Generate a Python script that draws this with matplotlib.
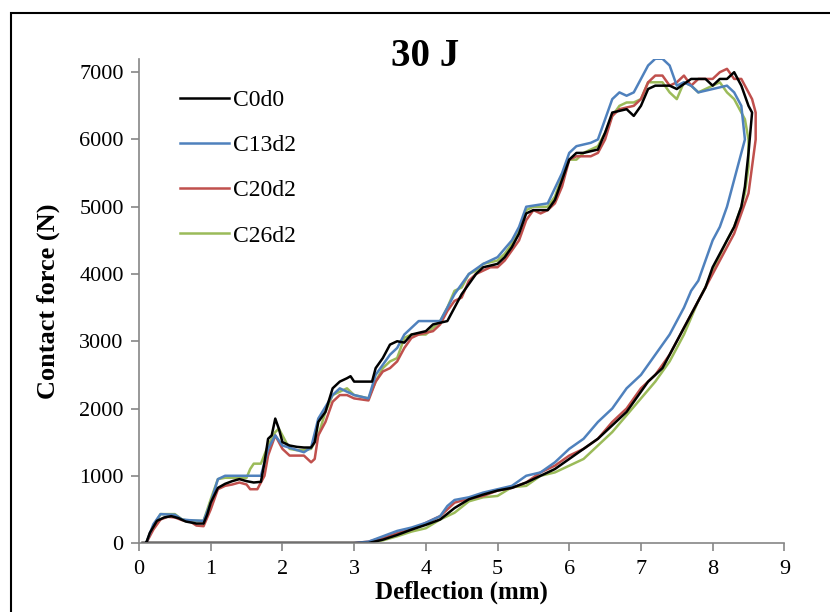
import matplotlib.pyplot as plt
from matplotlib.patches import Rectangle

plt.rcParams["font.family"] = ["Liberation Serif", "DejaVu Serif"]

labels = ["C0d0", "C13d2", "C20d2", "C26d2"]
colors = ["#000000", "#4F81BD", "#C0504D", "#9BBB59"]

# deflection (mm) and contact force (N), loading then unloading
c0d0_x = [0.05, 0.1, 0.15, 0.25, 0.35, 0.45, 0.55, 0.65, 0.8, 0.9, 0.95, 1.0, 1.1, 1.2, 1.3, 1.4,
          1.5, 1.6, 1.7, 1.75, 1.8, 1.85, 1.9, 1.95, 2.0, 2.1, 2.2, 2.3, 2.4, 2.45, 2.5, 2.6, 2.7,
          2.8, 2.9, 2.95, 3.0, 3.2, 3.25, 3.3, 3.4, 3.5, 3.6, 3.7, 3.8, 4.0, 4.1, 4.3, 4.4, 4.5,
          4.6, 4.7, 4.8, 5.0, 5.1, 5.2, 5.3, 5.4, 5.5, 5.7, 5.8, 5.9, 6.0, 6.1, 6.2, 6.4, 6.5,
          6.6, 6.8, 6.9, 7.0, 7.1, 7.2, 7.4, 7.5, 7.7, 7.9, 8.0, 8.1, 8.2, 8.3, 8.4, 8.5, 8.55,
          8.5, 8.45, 8.4, 8.3, 8.2, 8.1, 8.0, 7.9, 7.8, 7.7, 7.6, 7.5, 7.4, 7.3, 7.1, 7.0, 6.8,
          6.6, 6.4, 6.2, 6.0, 5.8, 5.6, 5.4, 5.2, 5.0, 4.8, 4.6, 4.4, 4.2, 4.0, 3.8, 3.6, 3.4,
          3.2, 3.0, 0.1]
c0d0_y = [0, 0, 150, 330, 380, 400, 370, 320, 290, 290, 420, 600, 820, 880, 920, 950,
          920, 900, 910, 1200, 1550, 1600, 1850, 1700, 1500, 1450, 1430, 1420, 1420, 1500, 1800,
          1950, 2300, 2400, 2450, 2480, 2400, 2400, 2400, 2600, 2750, 2950, 3000, 2980, 3100,
          3150, 3250, 3300, 3500, 3700, 3850, 4000, 4100, 4150, 4250, 4400, 4600, 4900, 4950,
          4950, 5100, 5400, 5700, 5800, 5800, 5850, 6100, 6400, 6450, 6350, 6500, 6750, 6800,
          6800, 6750, 6900, 6900, 6800, 6900, 6900, 7000, 6800, 6500, 6400,
          5800, 5300, 5000, 4700, 4500, 4300, 4100, 3800, 3600, 3400, 3200, 3000, 2800, 2600,
          2400, 2250, 1950, 1750, 1550, 1400, 1250, 1100, 1000, 900, 820, 780, 720, 650, 520,
          350, 270, 200, 120, 50, 0, 0, 0]

c13d2_x = [0.05, 0.1, 0.2, 0.3, 0.5, 0.6, 0.7, 0.9, 1.0, 1.1, 1.2, 1.5, 1.7, 1.8, 1.9, 2.0,
           2.3, 2.4, 2.5, 2.7, 2.8, 3.0, 3.2, 3.3, 3.5, 3.6, 3.7, 3.9, 4.2, 4.4, 4.6, 4.8, 5.0,
           5.2, 5.3, 5.4, 5.7, 5.9, 6.0, 6.1, 6.3, 6.4, 6.5, 6.6, 6.7, 6.8, 6.9, 7.0, 7.1, 7.2,
           7.3, 7.4, 7.5, 7.6, 7.7, 7.8, 8.0, 8.2, 8.3, 8.4, 8.45,
           8.4, 8.3, 8.2, 8.1, 8.0, 7.9, 7.8, 7.7, 7.6, 7.5, 7.4, 7.2, 7.0, 6.8, 6.6, 6.4, 6.2,
           6.0, 5.8, 5.6, 5.4, 5.2, 5.0, 4.8, 4.6, 4.4, 4.3, 4.2, 4.0, 3.8, 3.6, 3.4, 3.2, 3.0,
           0.1]
c13d2_y = [0, 0, 280, 430, 420, 350, 340, 330, 600, 950, 1000, 1000, 1000, 1400, 1600, 1450,
           1350, 1420, 1850, 2200, 2300, 2200, 2150, 2500, 2800, 2900, 3100, 3300, 3300, 3700,
           4000, 4150, 4250, 4500, 4700, 5000, 5050, 5500, 5800, 5900, 5950, 6000, 6300, 6600,
           6700, 6650, 6700, 6900, 7100, 7200, 7200, 7100, 6800, 6850, 6800, 6700, 6750, 6800,
           6700, 6500, 6000,
           5800, 5400, 5000, 4700, 4500, 4200, 3900, 3750, 3500, 3300, 3100, 2800, 2500, 2300,
           2000, 1800, 1550, 1400, 1200, 1050, 1000, 850, 800, 750, 680, 640, 550, 400, 300,
           230, 180, 100, 20, 0, 0]

c20d2_x = [0.05, 0.1, 0.2, 0.3, 0.4, 0.5, 0.6, 0.7, 0.8, 0.9, 1.0, 1.1, 1.2, 1.3, 1.4, 1.5,
           1.55, 1.65, 1.75, 1.8, 1.9, 2.0, 2.1, 2.2, 2.3, 2.4, 2.45, 2.5, 2.6, 2.7, 2.8, 2.9,
           3.0, 3.2, 3.3, 3.4, 3.5, 3.6, 3.7, 3.8, 3.9, 4.1, 4.2, 4.3, 4.4, 4.5, 4.6, 4.7, 4.9,
           5.0, 5.1, 5.2, 5.3, 5.4, 5.5, 5.6, 5.7, 5.8, 5.9, 6.0, 6.1, 6.3, 6.4, 6.5, 6.6, 6.7,
           6.9, 7.0, 7.1, 7.2, 7.3, 7.4, 7.5, 7.6, 7.7, 7.8, 8.0, 8.1, 8.2, 8.3, 8.4, 8.5, 8.55,
           8.6,
           8.6, 8.55, 8.5, 8.4, 8.3, 8.2, 8.1, 8.0, 7.9, 7.8, 7.6, 7.4, 7.2, 7.0, 6.8, 6.6, 6.4,
           6.2, 6.0, 5.8, 5.6, 5.4, 5.2, 5.0, 4.8, 4.6, 4.4, 4.2, 4.0, 3.8, 3.6, 3.4, 3.2, 3.0,
           0.1]
c20d2_y = [0, 0, 200, 350, 390, 380, 340, 330, 260, 250, 500, 800, 850, 870, 900, 870,
           800, 800, 1000, 1300, 1600, 1400, 1300, 1300, 1300, 1200, 1250, 1600, 1800, 2100,
           2200, 2200, 2150, 2120, 2400, 2550, 2600, 2700, 2900, 3050, 3100, 3150, 3250, 3450,
           3600, 3650, 3900, 4000, 4100, 4100, 4200, 4350, 4500, 4800, 4950, 4900, 4950, 5050,
           5300, 5700, 5750, 5750, 5800, 6000, 6350, 6450, 6500, 6600, 6850, 6950, 6950, 6800,
           6850, 6950, 6800, 6900, 6900, 7000, 7050, 6900, 6900, 6700, 6600, 6400,
           6000, 5600, 5200, 4900, 4600, 4400, 4200, 4000, 3800, 3600, 3200, 2800, 2500, 2300,
           2000, 1800, 1550, 1400, 1300, 1150, 1050, 900, 820, 780, 700, 660, 600, 400, 300,
           200, 150, 80, 20, 0, 0]

c26d2_x = [0.05, 0.1, 0.2, 0.3, 0.5, 0.6, 0.7, 0.9, 1.0, 1.1, 1.2, 1.5, 1.55, 1.6, 1.7, 1.8,
           1.9, 1.95, 2.0, 2.1, 2.2, 2.3, 2.4, 2.5, 2.6, 2.7, 2.8, 2.9, 3.0, 3.2, 3.3, 3.4, 3.5,
           3.6, 3.7, 3.8, 4.0, 4.1, 4.2, 4.3, 4.4, 4.5, 4.6, 4.7, 4.8, 5.0, 5.1, 5.2, 5.3, 5.4,
           5.5, 5.7, 5.8, 5.9, 6.0, 6.1, 6.2, 6.4, 6.5, 6.6, 6.7, 6.8, 6.9, 7.0, 7.1, 7.3, 7.4,
           7.5, 7.6, 7.7, 7.8, 8.0, 8.1, 8.2, 8.3, 8.4, 8.45, 8.5,
           8.5, 8.45, 8.4, 8.3, 8.2, 8.0, 7.9, 7.8, 7.6, 7.4, 7.2, 7.0, 6.8, 6.6, 6.4, 6.2, 6.0,
           5.8, 5.6, 5.4, 5.2, 5.0, 4.8, 4.6, 4.4, 4.2, 4.0, 3.8, 3.6, 3.4, 3.2, 0.1]
c26d2_y = [0, 0, 250, 430, 430, 350, 330, 330, 650, 950, 970, 970, 1100, 1180, 1180, 1450,
           1650, 1700, 1600, 1400, 1380, 1380, 1400, 1600, 1950, 2200, 2250, 2300, 2200, 2150,
           2400, 2600, 2700, 2750, 3050, 3100, 3100, 3200, 3300, 3500, 3750, 3800, 4000, 4050,
           4150, 4200, 4300, 4450, 4650, 4950, 5000, 5000, 5150, 5450, 5700, 5700, 5800, 5900,
           6100, 6350, 6500, 6550, 6550, 6600, 6850, 6850, 6700, 6600, 6850, 6800, 6700, 6800,
           6850, 6700, 6600, 6400, 6300, 6000,
           5600, 5200, 5000, 4700, 4500, 4050, 3800, 3600, 3100, 2700, 2400, 2150, 1900, 1650,
           1450, 1250, 1150, 1050, 1000, 850, 830, 700, 680, 620, 450, 350, 220, 170, 100, 40,
           0, 0]

xs = [c0d0_x, c13d2_x, c20d2_x, c26d2_x]
ys = [c0d0_y, c13d2_y, c20d2_y, c26d2_y]

fig = plt.figure(figsize=(8.3, 6.12), dpi=100)
ax = fig.add_axes([0.1675, 0.1127, 0.7775, 0.7913])

# draw in reverse so black sits on top
for x, y, c, lab in reversed(list(zip(xs, ys, colors, labels))):
    ax.plot(x, y, color=c, lw=1.8, label=lab)

ax.set_xlim(0, 9)
ax.set_ylim(0, 7200)
ax.set_xticks(range(0, 10))
ax.set_yticks(range(0, 7001, 1000))

for side in ["top", "right"]:
    ax.spines[side].set_visible(False)
for side in ["left", "bottom"]:
    ax.spines[side].set_color("#868686")
    ax.spines[side].set_linewidth(1.2)
ax.tick_params(direction="out", length=6, width=1.2, color="#868686",
               labelsize=16, labelcolor="black")
ax.tick_params(axis="x", pad=6)
ax.tick_params(axis="y", pad=5)

ax.set_xlabel("Deflection (mm)", fontsize=18, fontweight="bold", labelpad=1)
ax.set_ylabel("Contact force (N)", fontsize=19, fontweight="bold", labelpad=14)
ax.text(0.443, 1.005, "30 J", transform=ax.transAxes, ha="center", va="center",
        fontsize=28, fontweight="bold")

handles, lbls = ax.get_legend_handles_labels()
leg = ax.legend(handles[::-1], lbls[::-1], loc="upper left", bbox_to_anchor=(0.03, 0.98),
                frameon=False, fontsize=17, labelspacing=1.0, handlelength=2.1,
                handletextpad=0.15)

# outer chart frame
fig.patches.append(Rectangle((11 / 830, -0.1), 1.0, 1.1 - 13 / 612, transform=fig.transFigure,
                             fill=False, edgecolor="black", lw=1.5))

fig.savefig("out.png", dpi=100)
